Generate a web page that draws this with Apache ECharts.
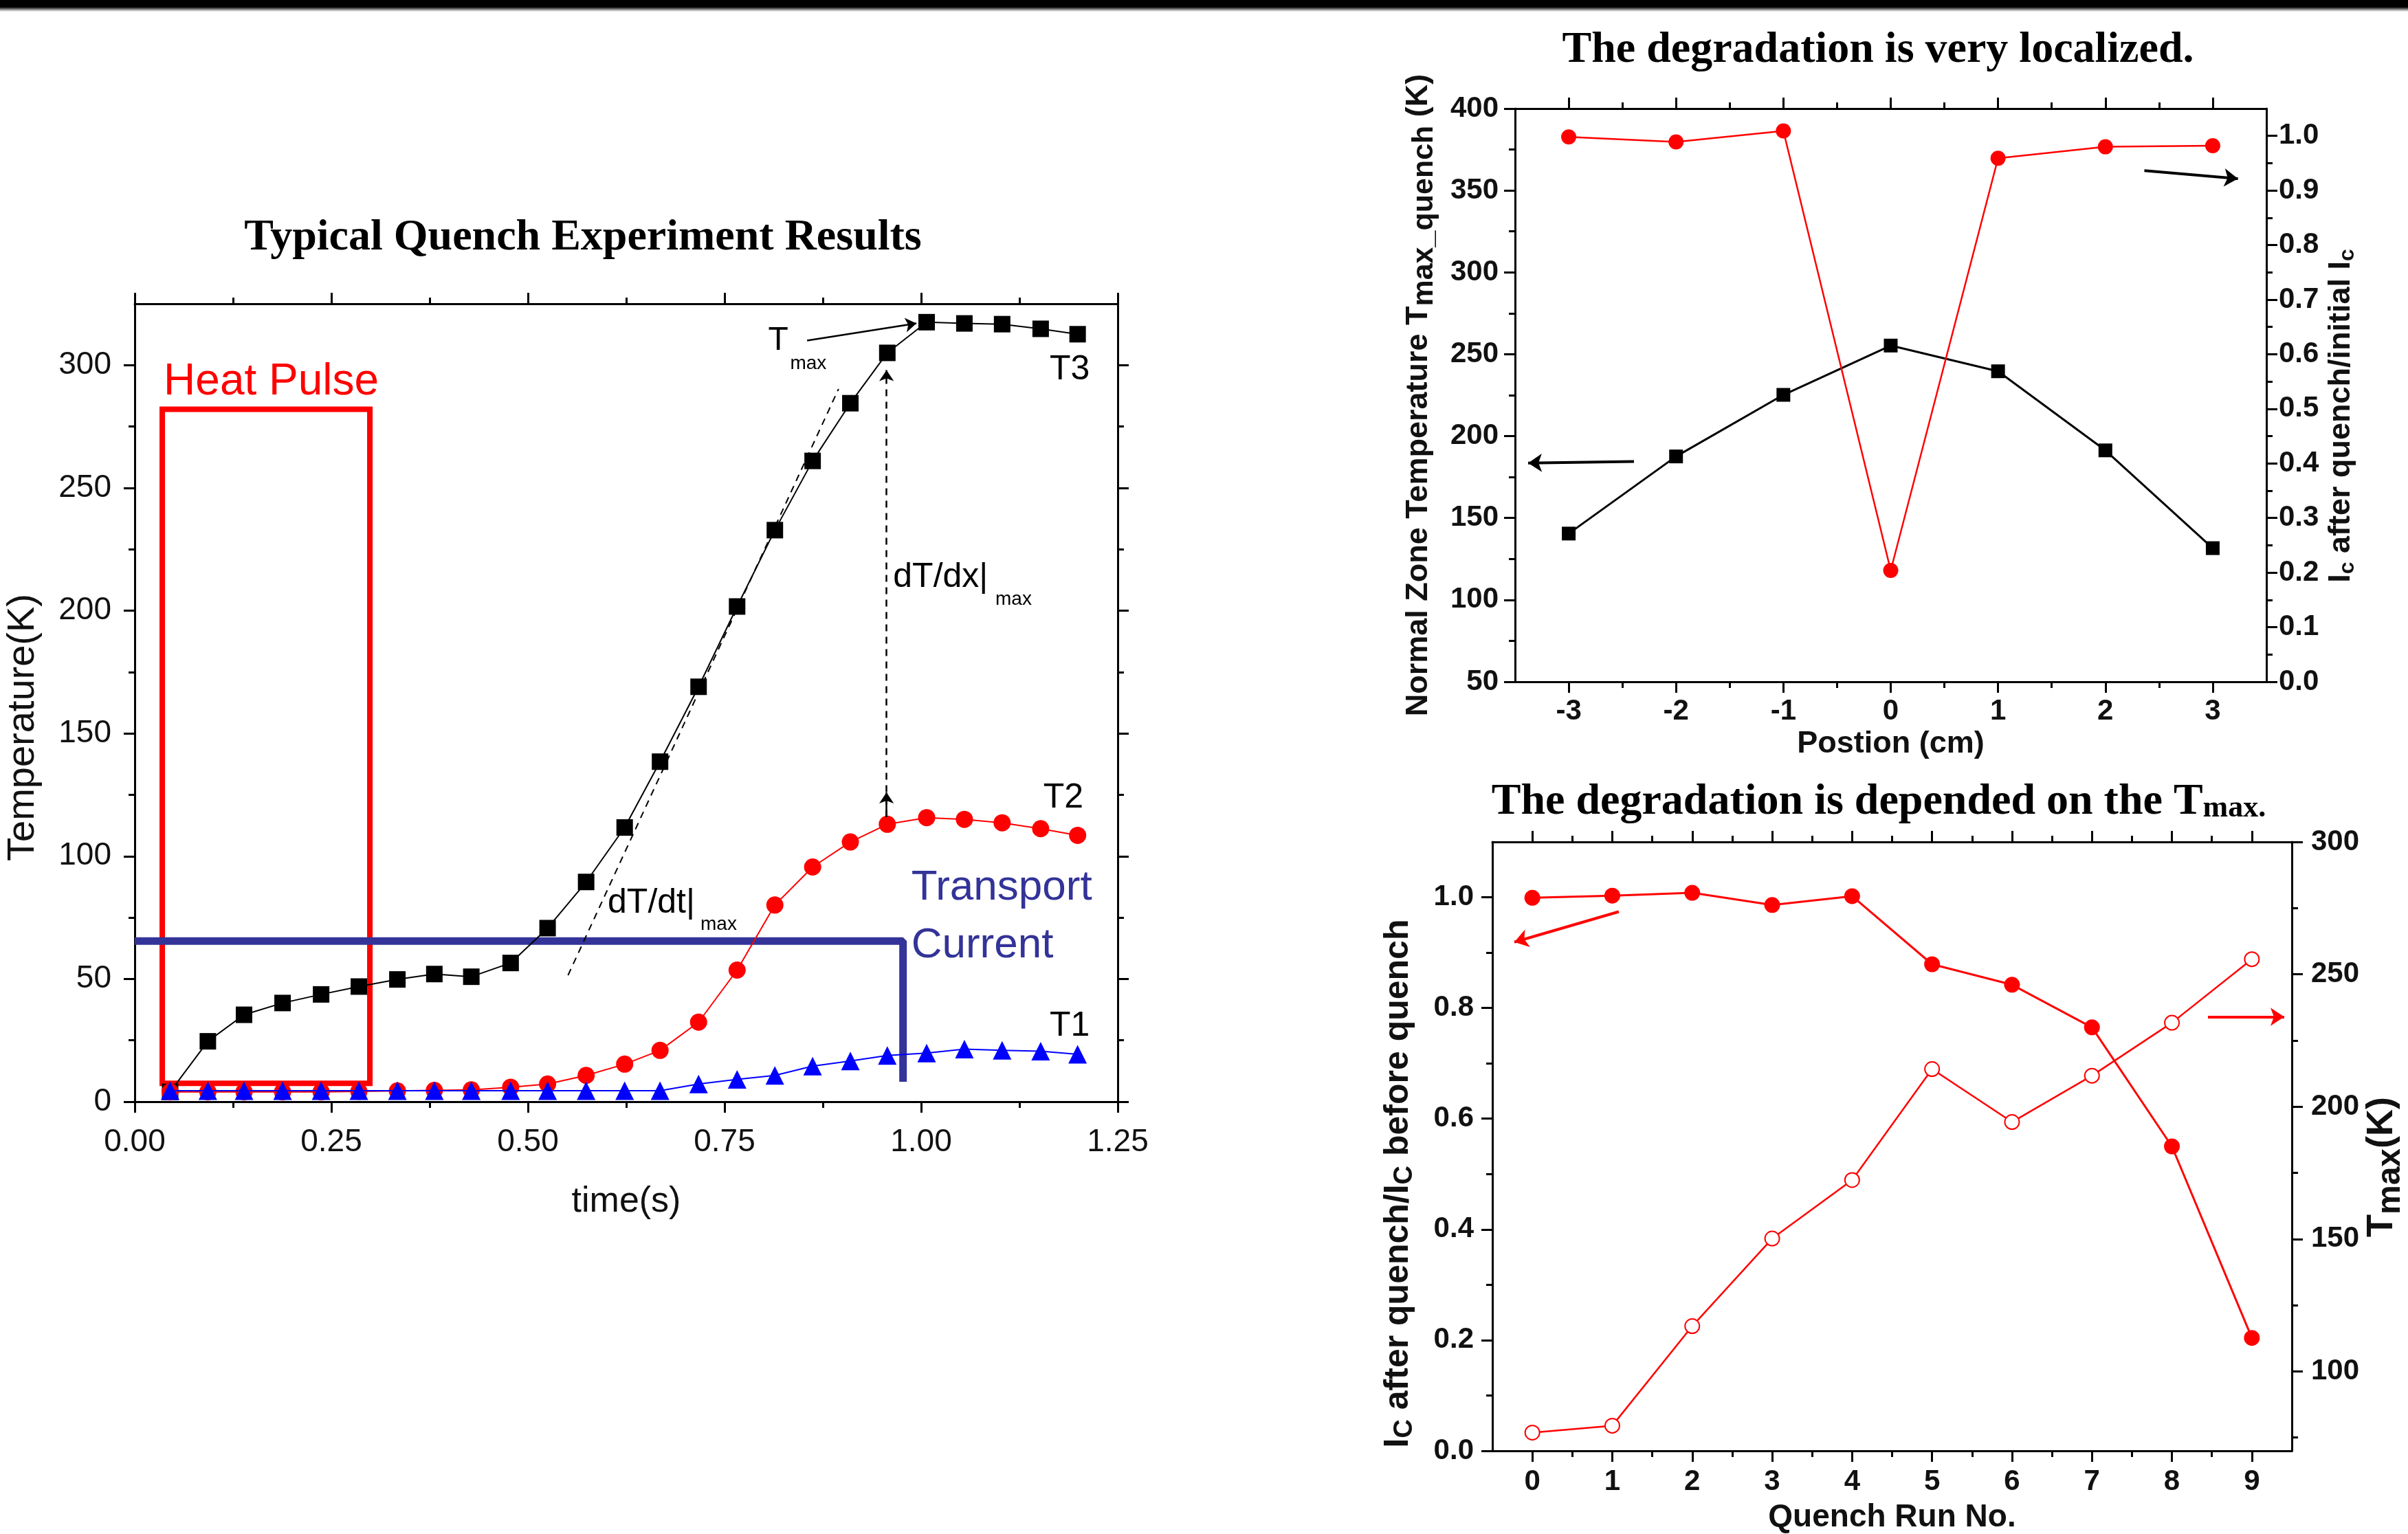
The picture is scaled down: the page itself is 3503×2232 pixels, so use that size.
<!DOCTYPE html>
<html>
<head>
<meta charset="utf-8">
<script src="https://cdn.jsdelivr.net/npm/echarts@6/dist/echarts.min.js"></script>
<style>
  html, body { margin: 0; padding: 0; background: #fff; }
  #main { width: 3503px; height: 2232px; }
</style>
</head>
<body>
<div id="main"></div>
<script>
// ---- left panel: typical quench run (temperature vs time) ----
const times = [0.045, 0.093, 0.139, 0.188, 0.237, 0.285, 0.334, 0.381, 0.428, 0.478, 0.525, 0.574, 0.623,
  0.668, 0.717, 0.766, 0.814, 0.862, 0.910, 0.957, 1.007, 1.055, 1.103, 1.152, 1.199]
const tempT3 = [4, 24.6, 35.4, 40.2, 43.7, 46.9, 49.8, 52, 50.9, 56.5, 70.7, 89.5, 111.7,
  138.5, 169, 201.7, 232.8, 261, 284.5, 305, 317.5, 317, 316.7, 314.8, 312.6]
const tempT2 = [4, 4, 4, 4, 4, 4.2, 4.4, 4.6, 4.8, 5.9, 7.2, 10.7, 15.3,
  20.9, 32.4, 53.6, 80.1, 95.6, 105.8, 113, 115.7, 115, 113.6, 111.2, 108.5]
const tempT1 = [4.5, 4.5, 4.5, 4.5, 4.5, 4.5, 4.5, 4.5, 4.5, 4.5, 4.5, 4.5, 4.5,
  4.5, 7.2, 9.1, 10.7, 14.5, 16.6, 18.8, 19.8, 21.4, 20.9, 20.6, 19.3]
const heatPulse = [[0.035, 282], [0.299, 7.5]]           // box corners
const transportCurrent = [[0.0, 65.4], [0.977, 65.4], [0.977, 8.1]]
const tangentLine = [[0.551, 51.5], [0.895, 290.3]]      // dT/dt|max guide
const timeTicks = [0, 0.25, 0.5, 0.75, 1.0, 1.25]
const timeMinor = [0.125, 0.375, 0.625, 0.875, 1.125]
const tempTicks = [0, 50, 100, 150, 200, 250, 300]
const tempMinor = [25, 75, 125, 175, 225, 275]

// ---- top right: degradation vs position ----
const positions = [-3, -2, -1, 0, 1, 2, 3]
const tmaxQuench = [140.5, 187.6, 225.2, 255.3, 239.6, 191.3, 131.6]
const icAfterInitial = [0.998, 0.989, 1.009, 0.204, 0.959, 0.980, 0.982]
const posMinor = [-2.5, -1.5, -0.5, 0.5, 1.5, 2.5]
const nzTicks = [50, 100, 150, 200, 250, 300, 350, 400]
const nzMinor = [75, 125, 175, 225, 275, 325, 375]
const icTicks = [0, 0.1, 0.2, 0.3, 0.4, 0.5, 0.6, 0.7, 0.8, 0.9, 1.0]
const icMinor = [0.05, 0.15, 0.25, 0.35, 0.45, 0.55, 0.65, 0.75, 0.85, 0.95]

// ---- bottom right: degradation vs quench run ----
const runs = [0, 1, 2, 3, 4, 5, 6, 7, 8, 9]
const icRatioRun = [0.999, 1.003, 1.008, 0.986, 1.002, 0.879, 0.842, 0.765, 0.550, 0.204]
const tmaxRun = [76.9, 79.5, 117.1, 150.2, 172.3, 214.2, 194.2, 211.7, 231.7, 255.7]
const runMinor = [0.5, 1.5, 2.5, 3.5, 4.5, 5.5, 6.5, 7.5, 8.5]
const ratioTicks = [0, 0.2, 0.4, 0.6, 0.8, 1.0]
const ratioMinor = [0.1, 0.3, 0.5, 0.7, 0.9]
const tmaxTicks = [100, 150, 200, 250, 300]
const tmaxMinor = [75, 125, 175, 225, 275]

const SANS = '"Liberation Sans", Arial, sans-serif'
const SERIF = '"Liberation Serif", "Times New Roman", serif'
const RED = '#ff0000'
const NAVY = '#333399'

const pairs = (xs, ys) => xs.map((x, i) => [x, ys[i]])

// visible axis (line, labels, long ticks) + a bare twin that only draws the short minor ticks
function axisPair(grid, pos, min, max, major, minor, o) {
  const main = {
    type: 'value', gridIndex: grid, position: pos, min: min, max: max,
    splitLine: {show: false},
    axisLine: {show: true, onZero: false, lineStyle: {color: '#000', width: o.lw}},
    axisTick: {show: true, length: o.tick, customValues: major, lineStyle: {color: '#000', width: o.lw}},
    axisLabel: {
      show: !!o.fmt, customValues: major, formatter: o.fmt, margin: o.margin,
      color: '#111', fontFamily: SANS, fontSize: o.fs, fontWeight: o.fw
    }
  }
  if (o.name) {
    main.name = o.name
    main.nameLocation = 'middle'
    main.nameGap = o.gap
    if (o.rotate !== undefined) main.nameRotate = o.rotate
    main.nameTextStyle = {
      color: '#111', fontFamily: SANS, fontSize: o.nfs, fontWeight: o.fw,
      padding: o.pad || 0, rich: o.rich
    }
  }
  const sub = {
    type: 'value', gridIndex: grid, position: pos, min: min, max: max,
    splitLine: {show: false},
    axisLine: {show: false, onZero: false},
    axisTick: {show: true, length: o.minorLen, customValues: minor, lineStyle: {color: '#000', width: o.lw}},
    axisLabel: {show: false}
  }
  return [main, sub]
}

// subscript styles for rich axis names
function subRich(size, subSize, drop, weight) {
  return {
    a: {fontFamily: SANS, fontWeight: weight, fontSize: size, lineHeight: size + 6, verticalAlign: 'top', color: '#111'},
    s: {fontFamily: SANS, fontWeight: weight, fontSize: subSize, lineHeight: size + 6, verticalAlign: 'top',
      padding: [drop, 0, 0, 0], color: '#111'}
  }
}

// text placed at a data coordinate
function note(coord, text, size, color, pos) {
  return {
    coord: coord, value: 0, symbol: 'circle', symbolSize: 1, itemStyle: {color: 'rgba(0,0,0,0)'},
    label: {show: true, position: pos || 'right', distance: 0, formatter: text, color: color,
      fontFamily: SANS, fontSize: size, lineHeight: size * 1.35}
  }
}

function arrow(from, to, style) {
  return [{coord: from, lineStyle: style}, {coord: to}]
}

const fmt2 = v => v.toFixed(2)
const fmt1 = v => v.toFixed(1)
const fmtInt = v => String(v)

const c1 = {lw: 3, tick: 16, minorLen: 9, fs: 46, fw: 'normal', margin: 36, nfs: 52}
const c2 = {lw: 3, tick: 16, minorLen: 9, fs: 42, fw: 'bold', margin: 22, nfs: 45}

const xAxes = [].concat(
  axisPair(0, 'bottom', 0, 1.25, timeTicks, timeMinor, Object.assign({}, c1, {fmt: fmt2, name: 'time(s)', gap: 120})),
  axisPair(0, 'top', 0, 1.25, timeTicks, timeMinor, c1),
  axisPair(1, 'bottom', -3.5, 3.5, positions, posMinor, Object.assign({}, c2, {fmt: fmtInt, margin: 22, name: 'Postion (cm)', gap: 68})),
  axisPair(1, 'top', -3.5, 3.5, positions, posMinor, c2),
  axisPair(2, 'bottom', -0.5, 9.5, runs, runMinor, Object.assign({}, c2, {fmt: fmtInt, margin: 24, name: 'Quench Run No.', gap: 74, nfs: 46})),
  axisPair(2, 'top', -0.5, 9.5, runs, runMinor, c2)
)

const yAxes = [].concat(
  axisPair(0, 'left', 0, 325, tempTicks, tempMinor, Object.assign({}, c1, {
    fmt: fmtInt, margin: 34, name: 'Temperature(K)', gap: 134, rotate: 90, nfs: 56, pad: [0, 72, 0, 0]})),
  axisPair(0, 'right', 0, 325, tempTicks, tempMinor, c1),
  axisPair(1, 'left', 50, 400, nzTicks, nzMinor, Object.assign({}, c2, {
    fmt: fmtInt, margin: 24, rotate: 90, gap: 112,
    name: '{a|Normal Zone Temperature T}{s|max_quench}{a| (K)}', rich: subRich(45, 43, 10, 'bold')})),
  axisPair(1, 'right', 0, 1.05, icTicks, icMinor, Object.assign({}, c2, {
    fmt: fmt1, margin: 18, rotate: 90, gap: 86, pad: [0, 60, 0, 0],
    name: '{a|I}{s|c}{a| after quench/initial I}{s|c}', rich: subRich(45, 32, 16, 'bold')})),
  axisPair(2, 'left', 0, 1.1, ratioTicks, ratioMinor, Object.assign({}, c2, {
    fmt: fmt1, margin: 27, rotate: 90, gap: 106, pad: [0, 108, 0, 0],
    name: '{a|I}{s|C}{a| after quench/I}{s|C}{a| before quench}', rich: subRich(50, 38, 16, 'bold')})),
  axisPair(2, 'right', 70, 300, tmaxTicks, tmaxMinor, Object.assign({}, c2, {
    fmt: fmtInt, margin: 28, rotate: 90, gap: 104, pad: [0, 60, 0, 0],
    name: '{a|T}{s|max}{a|(K)}', rich: subRich(54, 48, 16, 'bold')}))
)

const chart = echarts.init(document.getElementById('main'))

chart.setOption({
  animation: false,
  backgroundColor: '#fff',
  grid: [
    {left: 196, top: 442, width: 1430, height: 1161},
    {left: 2204, top: 158, width: 1093, height: 834},
    {left: 2171, top: 1225, width: 1163, height: 888}
  ],
  xAxis: xAxes,
  yAxis: yAxes,
  graphic: [
    {
      type: 'rect', shape: {x: 0, y: 0, width: 3503, height: 17},
      style: {fill: new echarts.graphic.LinearGradient(0, 0, 0, 1, [
        {offset: 0, color: '#000'}, {offset: 0.6, color: '#000'},
        {offset: 0.75, color: '#666'}, {offset: 1, color: '#fff'}])}
    },
    {
      type: 'text', x: 848, y: 346,
      style: {text: 'Typical Quench Experiment Results', fill: '#000', align: 'center', verticalAlign: 'middle',
        fontFamily: SERIF, fontWeight: 'bold', fontSize: 64}
    },
    {
      type: 'text', x: 2732, y: 73,
      style: {text: 'The degradation is very localized.', fill: '#000', align: 'center', verticalAlign: 'middle',
        fontFamily: SERIF, fontWeight: 'bold', fontSize: 64}
    },
    {
      type: 'text', x: 2733, y: 1161,
      style: {
        text: '{a|The degradation is depended on the T}{s|max.}', align: 'center', verticalAlign: 'middle',
        rich: {
          a: {fill: '#000', fontFamily: SERIF, fontWeight: 'bold', fontSize: 64, lineHeight: 76, verticalAlign: 'bottom'},
          s: {fill: '#000', fontFamily: SERIF, fontWeight: 'bold', fontSize: 44, lineHeight: 54, verticalAlign: 'bottom'}
        }
      }
    }
  ],
  series: [
    // transport current step
    {
      type: 'line', xAxisIndex: 0, yAxisIndex: 0, data: transportCurrent,
      showSymbol: false, silent: true, lineStyle: {color: NAVY, width: 11}, z: 1
    },
    // tangent guide + all the annotations of the left panel
    {
      type: 'line', xAxisIndex: 0, yAxisIndex: 0, data: tangentLine,
      showSymbol: false, silent: true, lineStyle: {color: '#000', width: 2, type: [10, 8]}, z: 1,
      markArea: {
        silent: true,
        itemStyle: {color: 'rgba(0,0,0,0)', borderColor: RED, borderWidth: 8},
        data: [[{coord: heatPulse[0]}, {coord: heatPulse[1]}]]
      },
      markLine: {
        silent: true, symbol: ['none', 'arrow'], symbolSize: 16, label: {show: false},
        data: [
          arrow([0.855, 310], [0.994, 317], {color: '#000', width: 2.5, type: 'solid'}),
          arrow([0.956, 116], [0.956, 298], {color: '#000', width: 2.5, type: [10, 8]}),
          arrow([0.956, 116], [0.956, 126], {color: '#000', width: 2.5, type: 'solid'})
        ]
      },
      markPoint: {
        silent: true,
        data: [
          note([0.1736, 293], 'Heat Pulse', 64, RED, 'inside'),
          note([0.987, 75.3], 'Transport\nCurrent', 62, NAVY),
          note([1.163, 298], 'T3', 50, '#000'),
          note([1.155, 123.7], 'T2', 50, '#000'),
          note([1.163, 30.6], 'T1', 50, '#000'),
          note([0.805, 310], 'T', 48, '#000'),
          note([0.833, 300.5], 'max', 28, '#000'),
          note([0.601, 80.9], 'dT/dt|', 50, '#000'),
          note([0.719, 72.1], 'max', 28, '#000'),
          note([0.964, 213.4], 'dT/dx|', 50, '#000'),
          note([1.094, 204.6], 'max', 28, '#000')
        ]
      }
    },
    {
      name: 'T3', type: 'line', xAxisIndex: 0, yAxisIndex: 0, data: pairs(times, tempT3),
      symbol: 'rect', symbolSize: 24, itemStyle: {color: '#000'}, lineStyle: {color: '#000', width: 2}, z: 3
    },
    {
      name: 'T2', type: 'line', xAxisIndex: 0, yAxisIndex: 0, data: pairs(times, tempT2),
      symbol: 'circle', symbolSize: 25, itemStyle: {color: RED}, lineStyle: {color: RED, width: 2}, z: 4
    },
    {
      name: 'T1', type: 'line', xAxisIndex: 0, yAxisIndex: 0, data: pairs(times, tempT1),
      symbol: 'triangle', symbolSize: 27, itemStyle: {color: '#0000ff'}, lineStyle: {color: '#0000ff', width: 2}, z: 5
    },

    // top right
    {
      type: 'line', xAxisIndex: 4, yAxisIndex: 4, data: pairs(positions, tmaxQuench),
      symbol: 'rect', symbolSize: 20, itemStyle: {color: '#000'}, lineStyle: {color: '#000', width: 3},
      markLine: {
        silent: true, symbol: ['none', 'arrow'], symbolSize: 20, label: {show: false},
        data: [
          arrow([-2.392, 184.5], [-3.378, 183.6], {color: '#000', width: 4, type: 'solid'}),
          arrow([2.363, 362.1], [3.235, 357.2], {color: '#000', width: 4, type: 'solid'})
        ]
      }
    },
    {
      type: 'line', xAxisIndex: 4, yAxisIndex: 6, data: pairs(positions, icAfterInitial),
      symbol: 'circle', symbolSize: 22, itemStyle: {color: RED}, lineStyle: {color: RED, width: 2.5}
    },

    // bottom right
    {
      type: 'line', xAxisIndex: 8, yAxisIndex: 8, data: pairs(runs, icRatioRun),
      symbol: 'circle', symbolSize: 23, itemStyle: {color: RED}, lineStyle: {color: RED, width: 3},
      markLine: {
        silent: true, symbol: ['none', 'arrow'], symbolSize: 20, label: {show: false},
        data: [
          arrow([1.082, 0.974], [-0.225, 0.919], {color: RED, width: 4, type: 'solid'}),
          arrow([8.451, 0.784], [9.405, 0.784], {color: RED, width: 4, type: 'solid'})
        ]
      }
    },
    {
      type: 'line', xAxisIndex: 8, yAxisIndex: 10, data: pairs(runs, tmaxRun),
      symbol: 'emptyCircle', symbolSize: 21, itemStyle: {color: RED, borderWidth: 2.5},
      lineStyle: {color: RED, width: 2.5}
    }
  ]
})
</script>
</body>
</html>
